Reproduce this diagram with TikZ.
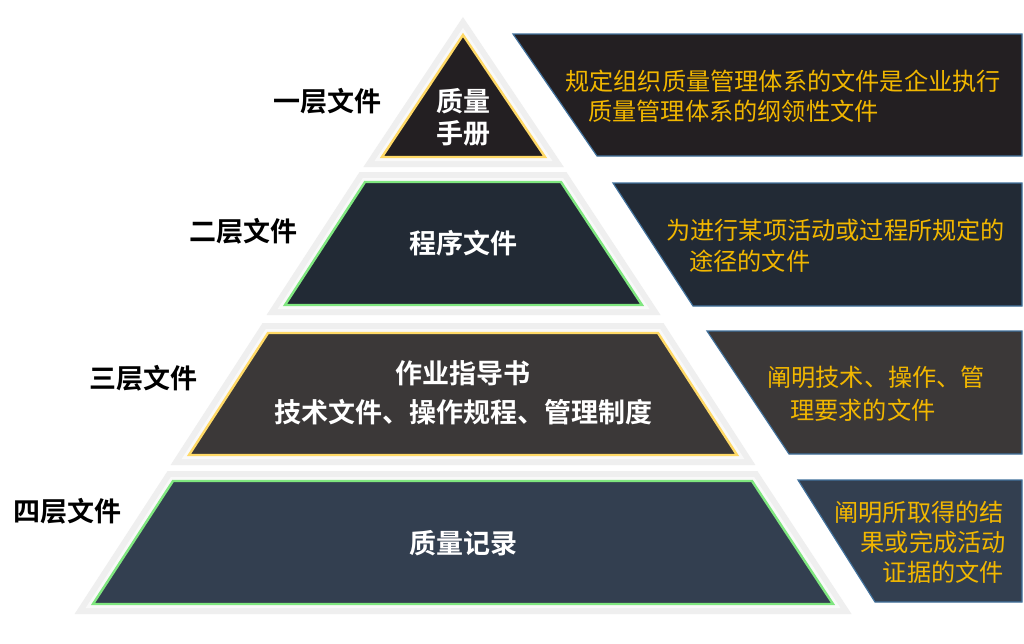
\documentclass[tikz,border=0pt]{standalone}
\usepackage{fontspec}
\newfontfamily\cjk{Noto Sans CJK SC}
\newfontfamily\cjkb{Noto Sans CJK SC Bold}
\definecolor{gA}{HTML}{EFEFEF}
\definecolor{gB}{HTML}{F9F9F9}
\definecolor{fOne}{HTML}{231F22}
\definecolor{fTwo}{HTML}{222A35}
\definecolor{fThree}{HTML}{3B3838}
\definecolor{fFour}{HTML}{333F50}
\definecolor{bGold}{HTML}{FFD966}
\definecolor{bGreen}{HTML}{7FE67F}
\definecolor{bBlue}{HTML}{41719C}
\definecolor{txtGold}{HTML}{F2B700}
\tikzset{
  glowA/.style={draw=gA, line width=20pt, line join=miter},
  glowB/.style={draw=gB, line width=8pt, line join=miter},
  layerbox/.style={line width=2.4pt, line join=miter},
  sidebox/.style={draw=bBlue, line width=1.2pt, line join=miter},
  laytext/.style={text=white, font=\cjkb\fontsize{27}{32}\selectfont, inner sep=0pt},
  lefttext/.style={text=black, font=\cjkb\fontsize{27}{32}\selectfont, inner sep=0pt},
  goldtext/.style={text=txtGold, font=\cjk\fontsize{24.2}{28}\selectfont, inner sep=0pt},
}
\newcommand\glowpoly[1]{\draw[glowA] #1 -- cycle; \draw[glowB] #1 -- cycle;}
\begin{document}
\begin{tikzpicture}[x=1pt,y=-1pt]
\useasboundingbox[fill=white] (0,0) rectangle (1024,643);
% glows
\glowpoly{(463,35) -- (545,157) -- (382,157)}
\glowpoly{(365,182) -- (561,182) -- (642,305) -- (285,305)}
\glowpoly{(268,333) -- (658,333) -- (737,455) -- (189,455)}
\glowpoly{(173,481) -- (752,481) -- (833,604) -- (93,604)}
% pyramid layers
\draw[layerbox, fill=fOne, draw=bGold] (463,35) -- (545,157) -- (382,157) -- cycle;
\draw[layerbox, fill=fTwo, draw=bGreen] (365,182) -- (561,182) -- (642,305) -- (285,305) -- cycle;
\draw[layerbox, fill=fThree, draw=bGold] (268,333) -- (658,333) -- (737,455) -- (189,455) -- cycle;
\draw[layerbox, fill=fFour, draw=bGreen] (173,481) -- (752,481) -- (833,604) -- (93,604) -- cycle;
% side boxes
\draw[sidebox, fill=fOne] (513,34) -- (1022,34) -- (1022,156) -- (597,156) -- cycle;
\draw[sidebox, fill=fTwo] (613,183) -- (1022,183) -- (1022,306) -- (693,306) -- cycle;
\draw[sidebox, fill=fThree] (707,331) -- (1022,331) -- (1022,454) -- (789,454) -- cycle;
\draw[sidebox, fill=fFour] (798,480) -- (1022,480) -- (1022,602) -- (875,602) -- cycle;
% left labels
\node[lefttext] (l1) at (327,101) {一层文件};
\node[lefttext] (l2) at (243,231) {二层文件};
\node[lefttext] (l3) at (143,378) {三层文件};
\node[lefttext] (l4) at (67,511) {四层文件};
% layer texts
\node[laytext] (t1a) at (463,101) {质量};
\node[laytext] (t1b) at (463,133) {手册};
\node[laytext] (t2) at (463,243) {程序文件};
\node[laytext] (t3a) at (463,373) {作业指导书};
\node[laytext] (t3b) at (463,412) {技术文件、操作规程、管理制度};
\node[laytext] (t4) at (463,543) {质量记录};
% descriptions
\node[goldtext, anchor=west] (d1a) at (565,81) {规定组织质量管理体系的文件是企业执行};
\node[goldtext, anchor=west] (d1b) at (588,111) {质量管理体系的纲领性文件};
\node[goldtext, anchor=west] (d2a) at (666,230) {为进行某项活动或过程所规定的};
\node[goldtext, anchor=west] (d2b) at (689,261) {途径的文件};
\node[goldtext, anchor=west] (d3a) at (767,377) {阐明技术、操作、管};
\node[goldtext, anchor=west] (d3b) at (790,410) {理要求的文件};
\node[goldtext, anchor=east] (d4a) at (1004,512) {阐明所取得的结};
\node[goldtext, anchor=east] (d4b) at (1006,542) {果或完成活动};
\node[goldtext, anchor=east] (d4c) at (1004,572) {证据的文件};
\end{tikzpicture}
\end{document}
